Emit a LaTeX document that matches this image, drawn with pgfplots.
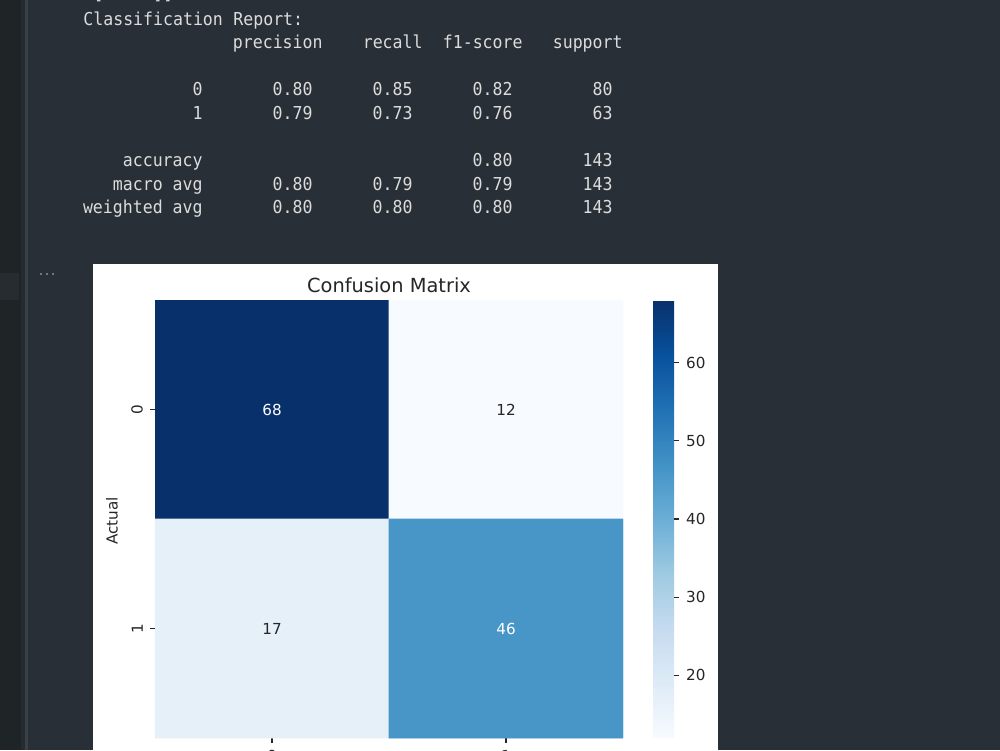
\documentclass[border=0pt]{standalone}
\usepackage{pgfplots}
\pgfplotsset{compat=1.18}
\usepackage{fontspec}
\setmainfont{DejaVu Sans}
\newfontfamily\mono[FakeStretch=0.93]{DejaVu Sans Mono}

\definecolor{pagebg}{HTML}{292F36}
\definecolor{sidebar}{HTML}{1F2427}
\definecolor{sidehi}{HTML}{272C30}
\definecolor{gutter}{HTML}{262B31}
\definecolor{gutterline}{HTML}{3A4047}
\definecolor{outtext}{HTML}{DCDCDC}
\definecolor{dots}{HTML}{8A9099}
\definecolor{ink}{HTML}{262626}

\pgfplotsset{
  colormap={Blues}{rgb255=(247,251,255) rgb255=(222,235,247) rgb255=(198,219,239)
    rgb255=(158,202,225) rgb255=(107,174,214) rgb255=(66,146,198)
    rgb255=(33,113,181) rgb255=(8,81,156) rgb255=(8,48,107)},
}

% one token of the printed report: right (or left) edge x, baseline y, text
\newcommand\rr[3]{\node[anchor=base east, inner sep=0, text=outtext,
  font=\mono\fontsize{8.9pt}{10pt}\selectfont] at (#1,#2) {#3};}
\newcommand\rl[3]{\node[anchor=base west, inner sep=0, text=outtext,
  font=\mono\fontsize{8.9pt}{10pt}\selectfont] at (#1,#2) {#3};}
\newcommand\mplfont{\fontsize{7.6pt}{9pt}\selectfont}

\begin{document}
\begin{tikzpicture}
\path[use as bounding box, clip] (0pt,0pt) rectangle (500pt,-375pt);
\begin{scope}[x=0.5pt,y=-0.5pt]
  % notebook background
  \fill[pagebg] (0,0) rectangle (1000,750);
  \fill[sidebar] (0,0) rectangle (20.5,750);
  \fill[sidehi] (0,273) rectangle (19,300);
  \fill[gutter] (20.5,0) rectangle (25,750);
  \fill[gutterline] (25,0) rectangle (28,750);
  \foreach \dx in {41,47,53} \fill[dots] (\dx,274) circle[radius=0.6pt];
  % text output
  \rl{93}{-0.4}{[17}\rl{133}{-0.4}{46]]}
  \rl{83}{25}{Classification}\rl{233}{25}{Report:}
  \rr{323}{48.6}{precision}\rr{423}{48.6}{recall}\rr{523}{48.6}{f1-score}\rr{623}{48.6}{support}
  \rr{203}{95.8}{0}\rr{313}{95.8}{0.80}\rr{413}{95.8}{0.85}\rr{513}{95.8}{0.82}\rr{613}{95.8}{80}
  \rr{203}{119.4}{1}\rr{313}{119.4}{0.79}\rr{413}{119.4}{0.73}\rr{513}{119.4}{0.76}\rr{613}{119.4}{63}
  \rr{203}{166.6}{accuracy}\rr{513}{166.6}{0.80}\rr{613}{166.6}{143}
  \rr{203}{190.2}{macro avg}\rr{313}{190.2}{0.80}\rr{413}{190.2}{0.79}\rr{513}{190.2}{0.79}\rr{613}{190.2}{143}
  \rr{203}{213.8}{weighted avg}\rr{313}{213.8}{0.80}\rr{413}{213.8}{0.80}\rr{513}{213.8}{0.80}\rr{613}{213.8}{143}
  % figure canvas
  \fill[white] (93,264) rectangle (718,750);
  \node[anchor=base, inner sep=0, text=ink, font=\fontsize{9.7pt}{11pt}\selectfont] at (389,292) {Confusion Matrix};
  \node[rotate=90, inner sep=0, text=ink, font=\mplfont] at (112,521) {Actual};
\end{scope}

\begin{axis}[
  at={(77.5pt,-369pt)}, anchor=south west,
  scale only axis, width=234pt, height=219pt,
  xmin=-0.5, xmax=1.5, ymin=-0.5, ymax=1.5, y dir=reverse,
  enlargelimits=false,
  axis line style={draw=none},
  xtick={0,1}, ytick={0,1}, xticklabels={0,1}, yticklabels={0,1},
  xtick pos=bottom, ytick pos=left, tick align=outside,
  major tick length=2.5pt,
  tick style={ink, line width=0.55pt},
  tick label style={font=\mplfont, text=ink},
  yticklabel style={rotate=90, anchor=south},
  xlabel={Predicted}, xlabel style={font=\mplfont, text=ink},
  colormap name=Blues, point meta min=12, point meta max=68,
  /pgf/number format/assume math mode=true,
  colorbar,
  colorbar style={
    at={(parent axis.north east)}, anchor=north west, xshift=6.5pt,
    scale only axis, width=10.5pt,
    ytick={20,30,40,50,60},
    ytick pos=right, yticklabel pos=right,
    axis line style={draw=none},
    tick align=outside, major tick length=2.5pt,
    tick style={ink, line width=0.55pt},
    yticklabel style={font=\mplfont, text=ink},
    /pgf/number format/assume math mode=true,
  },
]
\addplot[matrix plot*, mesh/cols=2, point meta=explicit]
  coordinates {(0,0) [68] (1,0) [12] (0,1) [17] (1,1) [46]};
% cell annotations: light text on dark cells, dark text on light cells
\addplot[draw=none, mark=none, point meta=explicit symbolic, nodes near coords,
  nodes near coords align=center,
  every node near coord/.style={anchor=center, text=white, font=\mplfont}]
  coordinates {(0,0) [68] (1,1) [46]};
\addplot[draw=none, mark=none, point meta=explicit symbolic, nodes near coords,
  nodes near coords align=center,
  every node near coord/.style={anchor=center, text=ink, font=\mplfont}]
  coordinates {(1,0) [12] (0,1) [17]};
\end{axis}
\end{tikzpicture}
\end{document}
